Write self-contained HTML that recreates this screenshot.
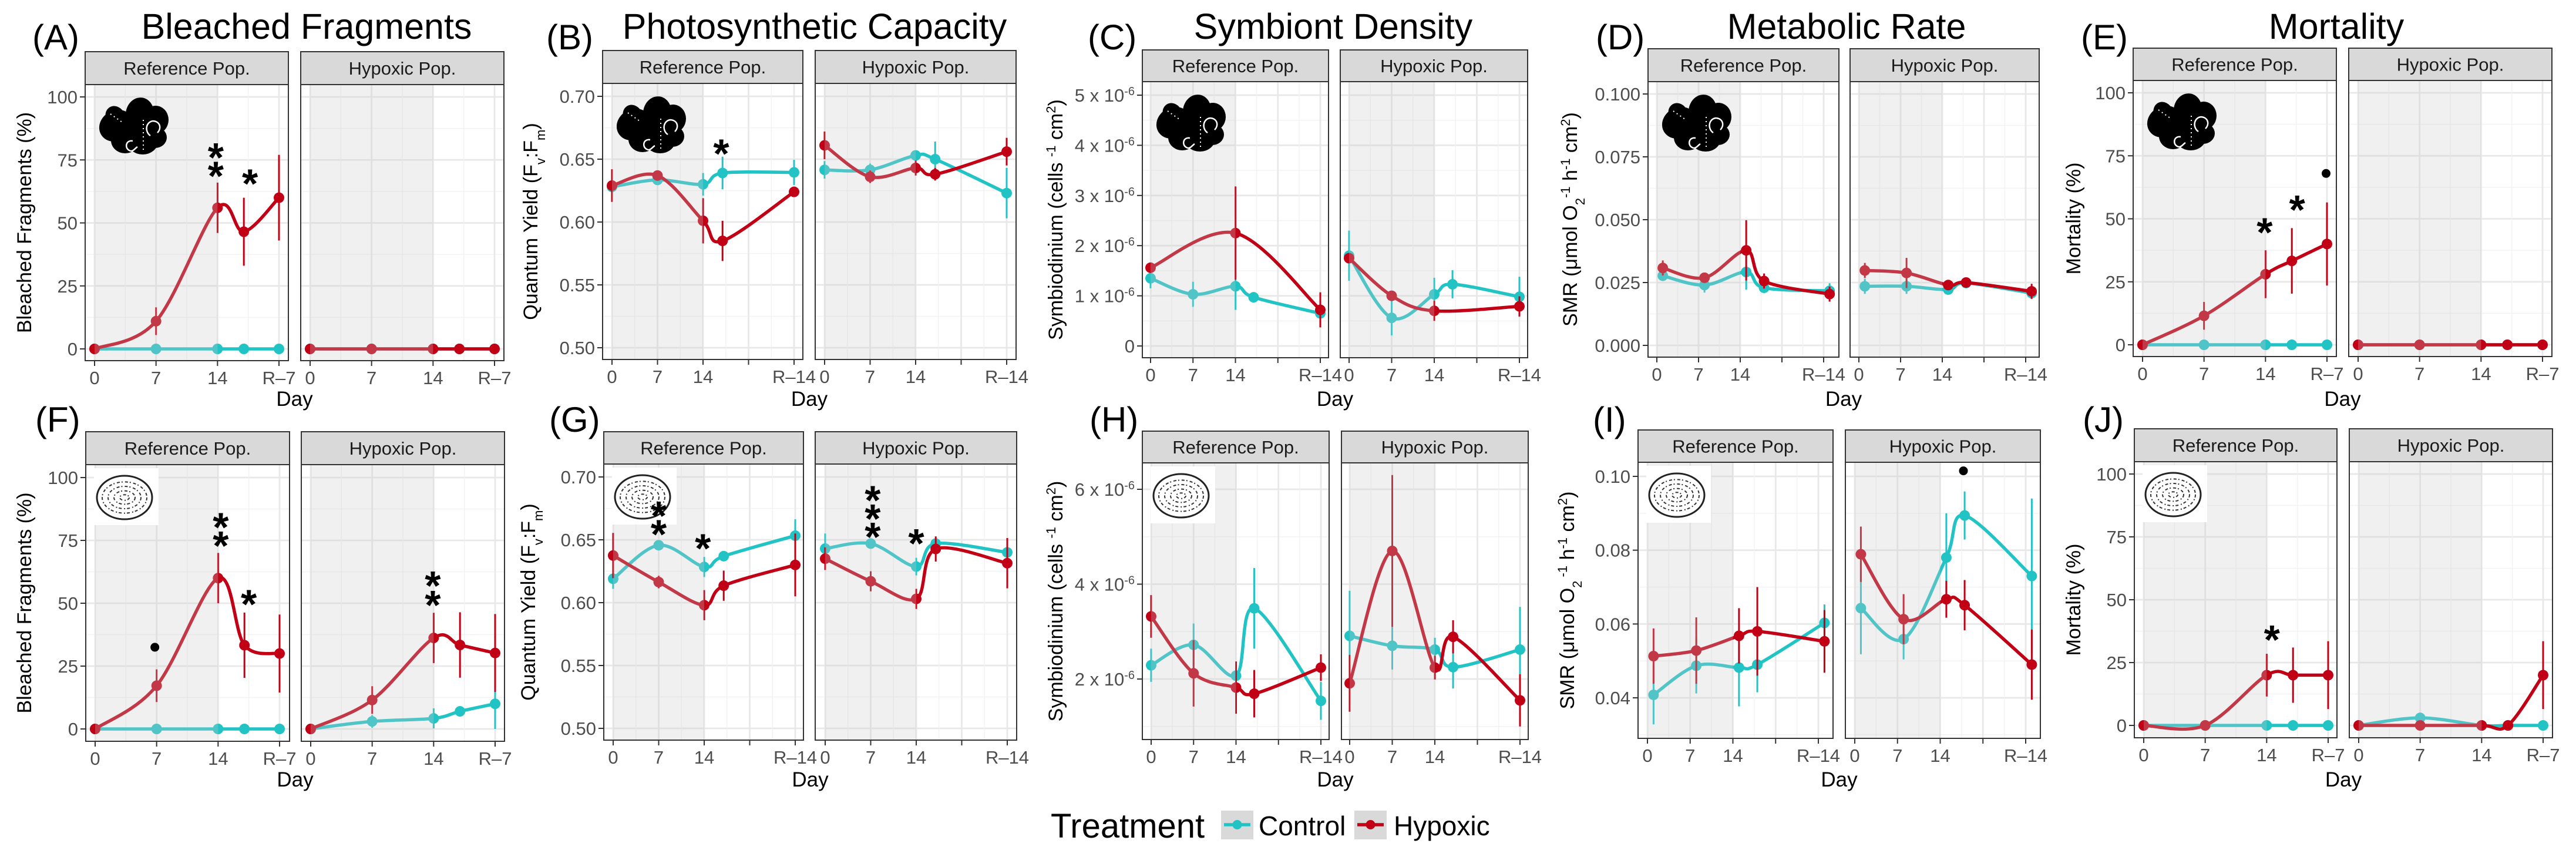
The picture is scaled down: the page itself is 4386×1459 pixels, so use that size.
<!DOCTYPE html>
<html><head><meta charset="utf-8">
<style>
html,body{margin:0;padding:0;background:#fff;}
svg{display:block;font-family:"Liberation Sans",Arial,sans-serif;}
</style></head>
<body>
<svg id="fig" width="4386" height="1459" viewBox="0 0 4386 1459" xmlns="http://www.w3.org/2000/svg"></svg>
<script>
// ---------- DATA ----------
const days21 = [0,7,14,17,21];
const days28 = [0,7,14,17,28];
const daysSMR = [1,8,15,18,29];

// A Bleached fragments, branching coral
const A_ref_ctrl = [0,0,0,0,0];            const A_ref_ctrl_err = [0,0,0,0,0];
const A_ref_hyp  = [0,11,56,46.5,60];      const A_ref_hyp_err  = [0,5.5,10,13.5,17];
const A_hyp_ctrl = [0,0,0,0,0];            const A_hyp_ctrl_err = [0,0,0,0,0];
const A_hyp_hyp  = [0,0,0,0,0];            const A_hyp_hyp_err  = [0,0,0,0,0];
// B Quantum yield, branching
const B_ref_ctrl = [0.628,0.6335,0.630,0.639,0.6395]; const B_ref_ctrl_err = [0.010,0.003,0.009,0.013,0.010];
const B_ref_hyp  = [0.629,0.637,0.601,0.585,0.624];   const B_ref_hyp_err  = [0.013,0.004,0.018,0.016,0.004];
const B_hyp_ctrl = [0.6415,0.6415,0.653,0.650,0.623]; const B_hyp_ctrl_err = [0.007,0.005,0.004,0.014,0.020];
const B_hyp_hyp  = [0.661,0.636,0.643,0.638,0.656];   const B_hyp_hyp_err  = [0.011,0.005,0.006,0.005,0.011];
// C Symbiont density (x1e-6), branching
const C_ref_hyp_days = [0,14,28];
const C_ref_ctrl = [1.35,1.03,1.19,0.97,0.65]; const C_ref_ctrl_err = [0.2,0.25,0.47,0.05,0.1];
const C_ref_hyp  = [1.56,2.25,0.72];           const C_ref_hyp_err  = [0.05,0.93,0.35];
const C_hyp_hyp_days = [0,7,14,28];
const C_hyp_ctrl = [1.80,0.56,1.03,1.23,0.98]; const C_hyp_ctrl_err = [0.5,0.35,0.33,0.28,0.4];
const C_hyp_hyp  = [1.75,1.0,0.70,0.79];       const C_hyp_hyp_err  = [0.05,0.1,0.2,0.2];
// D SMR, branching
const D_ref_ctrl = [0.0277,0.0240,0.0292,0.0229,0.0217]; const D_ref_ctrl_err = [0.002,0.003,0.007,0.002,0.003];
const D_ref_hyp  = [0.0308,0.0269,0.0378,0.0256,0.0204]; const D_ref_hyp_err  = [0.003,0.002,0.012,0.003,0.003];
const D_hyp_ctrl = [0.0235,0.0235,0.0222,0.0248,0.0208]; const D_hyp_ctrl_err = [0.003,0.003,0.002,0.002,0.002];
const D_hyp_hyp  = [0.0298,0.0288,0.0240,0.0250,0.0215]; const D_hyp_hyp_err  = [0.003,0.006,0.002,0.002,0.003];
// E Mortality, branching
const E_ref_ctrl = [0,0,0,0,0];        const E_ref_ctrl_err = [0,0,0,0,0];
const E_ref_hyp  = [0,11.5,28,33.3,40]; const E_ref_hyp_err = [0,5.5,9.5,13,16.5];
const E_hyp_ctrl = [0,0,0,0,0];        const E_hyp_ctrl_err = [0,0,0,0,0];
const E_hyp_hyp  = [0,0,0,0,0];        const E_hyp_hyp_err  = [0,0,0,0,0];
// F Bleached, massive coral
const F_ref_ctrl = [0,0,0,0,0];          const F_ref_ctrl_err = [0,0,0,0,0];
const F_ref_hyp  = [0,17.2,60,33.3,30];  const F_ref_hyp_err  = [0,6.5,10,13,15.5];
const F_hyp_ctrl = [0,3,4.2,7,10];       const F_hyp_ctrl_err = [0,2.5,4,0.5,10];
const F_hyp_hyp  = [0,11.5,36.2,33.4,30.2]; const F_hyp_hyp_err = [0,5.5,10,13,15.5];
// G Quantum yield, massive
const G_ref_ctrl = [0.619,0.6457,0.6284,0.637,0.6533]; const G_ref_ctrl_err = [0.008,0.004,0.008,0.003,0.013];
const G_ref_hyp  = [0.6375,0.6164,0.598,0.6135,0.630]; const G_ref_hyp_err  = [0.018,0.005,0.012,0.012,0.025];
const G_hyp_ctrl = [0.643,0.647,0.6287,0.647,0.640];   const G_hyp_ctrl_err = [0.012,0.004,0.007,0.003,0.003];
const G_hyp_hyp  = [0.635,0.617,0.603,0.6427,0.6314];  const G_hyp_hyp_err  = [0.009,0.008,0.008,0.010,0.020];
// H Symbiont density (x1e-6), massive
const H_ref_ctrl = [2.29,2.72,2.07,3.49,1.54]; const H_ref_ctrl_err = [0.35,0.45,0.1,0.85,0.4];
const H_ref_hyp  = [3.32,2.12,1.82,1.69,2.24]; const H_ref_hyp_err  = [0.45,0.7,0.55,0.5,0.28];
const H_hyp_ctrl = [2.91,2.70,2.62,2.25,2.62]; const H_hyp_ctrl_err = [0.95,0.5,0.25,0.45,0.9];
const H_hyp_hyp  = [1.91,4.70,2.24,2.89,1.55]; const H_hyp_hyp_err  = [0.6,1.6,0.25,0.35,0.55];
// I SMR, massive
const I_ref_ctrl = [0.0408,0.0487,0.0482,0.0490,0.0603]; const I_ref_ctrl_err = [0.008,0.0075,0.0105,0.0075,0.005];
const I_ref_hyp  = [0.0513,0.0528,0.0568,0.0580,0.0553]; const I_ref_hyp_err  = [0.0075,0.009,0.0075,0.012,0.0085];
const I_hyp_ctrl = [0.0643,0.0559,0.0780,0.0894,0.0730]; const I_hyp_ctrl_err = [0.0125,0.0055,0.012,0.0065,0.021];
const I_hyp_hyp  = [0.0789,0.0613,0.0667,0.0651,0.0490]; const I_hyp_hyp_err  = [0.0075,0.0068,0.005,0.0068,0.0095];
// J Mortality, massive
const J_ref_ctrl = [0,0,0,0,0];     const J_ref_ctrl_err = [0,0,0,0,0];
const J_ref_hyp  = [0,0,20,20,20];  const J_ref_hyp_err  = [0,0,8.5,11,13.5];
const J_hyp_ctrl = [0,3,0,0,0];     const J_hyp_ctrl_err = [0,1.5,0,0,0];
const J_hyp_hyp  = [0,0,0,0,20];    const J_hyp_hyp_err  = [0,0,0,0,13.5];

// significance marks [day, value, symbol]
const A_ref_marks = [[13.8,79.7,'*'],[13.8,72.4,'*'],[17.7,69.3,'*']];
const B_ref_marks = [[16.8,0.662,'*']];
const E_ref_marks = [[13.9,48.4,'*'],[17.6,57.3,'*'],[20.9,68,'dot']];
const F_ref_marks = [[6.8,32.5,'dot'],[14.3,84,'*'],[14.3,76.6,'*'],[17.5,53.4,'*']];
const F_hyp_marks = [[13.9,60.7,'*'],[13.9,53,'*']];
const G_ref_marks = [[7.0,0.6767,'*'],[7.0,0.662,'*'],[13.8,0.6506,'*']];
const G_hyp_marks = [[7.3,0.689,'*'],[7.3,0.6744,'*'],[7.3,0.6597,'*'],[14.0,0.6547,'*']];
const I_hyp_marks = [[17.8,0.1015,'dot']];
const J_ref_marks = [[14.6,37.9,'*']];

// tick label arrays
const pctTicks = [0,25,50,75,100];
const qyTicks = [0.50,0.55,0.60,0.65,0.70];
const symTopTicks = [0,1,2,3,4,5];
const symBotTicks = [2,4,6];
const smrTopTicks = [0,0.025,0.05,0.075,0.1];
const smrBotTicks = [0.04,0.06,0.08,0.10];
const xLabels21 = ['0','7','14','R\u20137'];
const xLabels28 = ['0','7','14','','R\u201314'];

// ---------- LAYOUT (positions) ----------
const CTRL = '#22c3c5', HYP = '#c10016';
const panels = [
 {id:'A',title:'Bleached Fragments',tx:522,lx:55,row:0,dmax:21,xr:[145,491,161,475],xh:[512,858,528,842],strip:[88,144],bot:614,y:[0,594,100,165],ticks:pctTicks,fmt:v=>String(v),ylab:'bf',ylx:41,icon:'branch',
  ref:{c:[days21,A_ref_ctrl,A_ref_ctrl_err],h:[days21,A_ref_hyp,A_ref_hyp_err],m:A_ref_marks},hyp:{c:[days21,A_hyp_ctrl,A_hyp_ctrl_err],h:[days21,A_hyp_hyp,A_hyp_hyp_err],m:[]}},
 {id:'B',title:'Photosynthetic Capacity',tx:1387,lx:930,row:0,dmax:28,xr:[1026,1367,1042,1352],xh:[1388,1730,1404,1714],strip:[86,142],bot:612,y:[0.5,592,0.7,164],ticks:qyTicks,fmt:v=>v.toFixed(2),ylab:'qy',ylx:903,icon:'branch',
  ref:{c:[days28,B_ref_ctrl,B_ref_ctrl_err],h:[days28,B_ref_hyp,B_ref_hyp_err],m:B_ref_marks},hyp:{c:[days28,B_hyp_ctrl,B_hyp_ctrl_err],h:[days28,B_hyp_hyp,B_hyp_hyp_err],m:[]}},
 {id:'C',title:'Symbiont Density',tx:2270,lx:1852,row:0,dmax:28,xr:[1945,2262,1959,2248],xh:[2282,2601,2297,2587],strip:[85,139],bot:609,y:[0,589,5,162],ticks:symTopTicks,fmt:'sci',ylab:'sym',ylx:1797,icon:'branch',
  ref:{c:[days28,C_ref_ctrl,C_ref_ctrl_err],h:[C_ref_hyp_days,C_ref_hyp,C_ref_hyp_err],m:[]},hyp:{c:[days28,C_hyp_ctrl,C_hyp_ctrl_err],h:[C_hyp_hyp_days,C_hyp_hyp,C_hyp_hyp_err],m:[]}},
 {id:'D',title:'Metabolic Rate',tx:3144,lx:2717,row:0,dmax:28,xr:[2806,3131,2821,3105],xh:[3150,3472,3165,3449],strip:[83,139],bot:608,y:[0,588,0.1,160],ticks:smrTopTicks,fmt:v=>v.toFixed(3),ylab:'smr',ylx:2673,icon:'branch',
  ref:{c:[daysSMR,D_ref_ctrl,D_ref_ctrl_err],h:[daysSMR,D_ref_hyp,D_ref_hyp_err],m:[]},hyp:{c:[daysSMR,D_hyp_ctrl,D_hyp_ctrl_err],h:[daysSMR,D_hyp_hyp,D_hyp_hyp_err],m:[]}},
 {id:'E',title:'Mortality',tx:3978,lx:3543,row:0,dmax:21,xr:[3632,3978,3648,3962],xh:[3999,4345,4015,4329],strip:[82,137],bot:607,y:[0,587,100,158],ticks:pctTicks,fmt:v=>String(v),ylab:'mort',ylx:3530,icon:'branch',
  ref:{c:[days21,E_ref_ctrl,E_ref_ctrl_err],h:[days21,E_ref_hyp,E_ref_hyp_err],m:E_ref_marks},hyp:{c:[days21,E_hyp_ctrl,E_hyp_ctrl_err],h:[days21,E_hyp_hyp,E_hyp_hyp_err],m:[]}},
 {id:'F',lx:60,row:1,dmax:21,xr:[146,493,162,476],xh:[513,859,529,843],strip:[735,791],bot:1262,y:[0,1241,100,813],ticks:pctTicks,fmt:v=>String(v),ylab:'bf',ylx:41,icon:'brain',
  ref:{c:[days21,F_ref_ctrl,F_ref_ctrl_err],h:[days21,F_ref_hyp,F_ref_hyp_err],m:F_ref_marks},hyp:{c:[days21,F_hyp_ctrl,F_hyp_ctrl_err],h:[days21,F_hyp_hyp,F_hyp_hyp_err],m:F_hyp_marks}},
 {id:'G',lx:935,row:1,dmax:28,xr:[1028,1368,1044,1354],xh:[1388,1731,1405,1715],strip:[735,790],bot:1260,y:[0.5,1240,0.7,812],ticks:qyTicks,fmt:v=>v.toFixed(2),ylab:'qy2',ylx:899,icon:'brain',
  ref:{c:[days28,G_ref_ctrl,G_ref_ctrl_err],h:[days28,G_ref_hyp,G_ref_hyp_err],m:G_ref_marks},hyp:{c:[days28,G_hyp_ctrl,G_hyp_ctrl_err],h:[days28,G_hyp_hyp,G_hyp_hyp_err],m:G_hyp_marks}},
 {id:'H',lx:1855,row:1,dmax:28,xr:[1945,2263,1960,2249],xh:[2284,2602,2298,2588],strip:[734,788],bot:1259,y:[2,1156,6,833],ticks:symBotTicks,fmt:'sci',ylab:'sym',ylx:1797,icon:'brain',
  ref:{c:[days28,H_ref_ctrl,H_ref_ctrl_err],h:[days28,H_ref_hyp,H_ref_hyp_err],m:[]},hyp:{c:[days28,H_hyp_ctrl,H_hyp_ctrl_err],h:[days28,H_hyp_hyp,H_hyp_hyp_err],m:[]}},
 {id:'I',lx:2712,row:1,dmax:28,xr:[2789,3121,2805,3096],xh:[3142,3474,3158,3449],strip:[732,787],bot:1257,y:[0.04,1188,0.10,811],ticks:smrBotTicks,fmt:v=>v.toFixed(2),ylab:'smr2',ylx:2668,icon:'brain',
  ref:{c:[daysSMR,I_ref_ctrl,I_ref_ctrl_err],h:[daysSMR,I_ref_hyp,I_ref_hyp_err],m:[]},hyp:{c:[daysSMR,I_hyp_ctrl,I_hyp_ctrl_err],h:[daysSMR,I_hyp_hyp,I_hyp_hyp_err],m:I_hyp_marks}},
 {id:'J',lx:3546,row:1,dmax:21,xr:[3634,3979,3650,3964],xh:[4000,4346,4016,4330],strip:[730,786],bot:1256,y:[0,1235,100,807],ticks:pctTicks,fmt:v=>String(v),ylab:'mort',ylx:3530,icon:'brain',
  ref:{c:[days21,J_ref_ctrl,J_ref_ctrl_err],h:[days21,J_ref_hyp,J_ref_hyp_err],m:J_ref_marks},hyp:{c:[days21,J_hyp_ctrl,J_hyp_ctrl_err],h:[days21,J_hyp_hyp,J_hyp_hyp_err],m:[]}}
];

// ---------- DRAWING ----------
const NS='http://www.w3.org/2000/svg';
const svg=document.getElementById('fig');
function mk(tag,attrs,parent){const e=document.createElementNS(NS,tag);for(const k in attrs)e.setAttribute(k,attrs[k]);(parent||svg).appendChild(e);return e;}
function txt(s,attrs,parent){const e=mk('text',attrs,parent);e.textContent=s;return e;}
function tsp(parent,s,attrs){const t=document.createElementNS(NS,'tspan');for(const k in attrs)t.setAttribute(k,attrs[k]);t.textContent=s;parent.appendChild(t);return t;}

function spline(pts){
  if(pts.length<2)return '';
  let d='M'+pts[0][0]+','+pts[0][1];
  for(let i=0;i<pts.length-1;i++){
    const p0=pts[Math.max(0,i-1)],p1=pts[i],p2=pts[i+1],p3=pts[Math.min(pts.length-1,i+2)];
    const c1=[p1[0]+(p2[0]-p0[0])/6,p1[1]+(p2[1]-p0[1])/6];
    const c2=[p2[0]-(p3[0]-p1[0])/6,p2[1]-(p3[1]-p1[1])/6];
    d+=' C'+c1[0]+','+c1[1]+' '+c2[0]+','+c2[1]+' '+p2[0]+','+p2[1];
  }
  return d;
}

function branchIcon(g,x,y){
  const ig=mk('g',{transform:'translate('+x+','+y+')'},g);
  
  
  const blobs=[[30,58,30,26,-30],[70,38,24,28,10],[97,48,22,24,0],[96,78,20,18,0],[75,85,26,22,0],[45,83,24,22,0],[58,60,22,22,0],[28,42,16,18,-30]];
  blobs.forEach(b=>mk('ellipse',{cx:b[0],cy:b[1],rx:b[2],ry:b[3],transform:'rotate('+b[4]+' '+b[0]+' '+b[1]+')',fill:'#000'},ig));
  mk('path',{d:'M88,75 C78,68 80,52 92,50 C104,50 108,62 100,70',fill:'none',stroke:'#fff','stroke-width':2.5},ig);
  mk('path',{d:'M58,84 C46,82 44,96 52,100 C58,104 62,96 66,94',fill:'none',stroke:'#fff','stroke-width':2.5},ig);
  mk('path',{d:'M76,48 L76,100',fill:'none',stroke:'#fff','stroke-width':2,'stroke-dasharray':'2 5'},ig);
  mk('path',{d:'M20,38 L40,52',fill:'none',stroke:'#fff','stroke-width':2,'stroke-dasharray':'2 5'},ig);
}
function brainIcon(g,x,y){
  const ig=mk('g',{transform:'translate('+x+','+y+')'},g);
  
  
  mk('rect',{x:0,y:0,width:110,height:97,fill:'#fff'},ig);
  mk('ellipse',{cx:52,cy:50,rx:47,ry:37,fill:'#fff',stroke:'#222','stroke-width':3},ig);
  [[38,28],[28,20],[18,12],[8,5]].forEach(r=>mk('ellipse',{cx:52,cy:50,rx:r[0],ry:r[1]*0.95,fill:'none',stroke:'#333','stroke-width':2,'stroke-dasharray':'5 3 2 4'},ig));
}

function drawFacet(p,xs,facet,label,g){
  const [x0,x1,t0,t1]=xs, top=p.strip[1], bot=p.bot;
  const X=d=>t0+d/p.dmax*(t1-t0);
  const Y=v=>p.y[1]+(v-p.y[0])/(p.y[2]-p.y[0])*(p.y[3]-p.y[1]);
  const fg=mk('g',{},g);
  
  
  mk('rect',{x:x0,y:top,width:x1-x0,height:bot-top,fill:'#fff'},fg);
  const cid='clip-'+p.id+'-'+(facet===p.ref?'ref':'hyp');
  const cp=mk('clipPath',{id:cid},fg);mk('rect',{x:x0,y:top,width:x1-x0,height:bot-top},cp);
  const inner=mk('g',{'clip-path':'url(#'+cid+')'},fg);
  // grid
  const tk=p.ticks, step=tk[1]-tk[0];
  for(let i=-1;i<tk.length;i++){const v=tk[0]+(i+0.5)*step;mk('line',{x1:x0,x2:x1,y1:Y(v),y2:Y(v),stroke:'#f2f2f2','stroke-width':1.4},inner);}
  tk.forEach(v=>mk('line',{x1:x0,x2:x1,y1:Y(v),y2:Y(v),stroke:'#e8e8e8','stroke-width':2.8},inner));
  const xmaj=p.dmax===21?[0,7,14,21]:[0,7,14,21,28];
  for(let i=0;i<xmaj.length-1;i++){const d=(xmaj[i]+xmaj[i+1])/2;mk('line',{x1:X(d),x2:X(d),y1:top,y2:bot,stroke:'#f2f2f2','stroke-width':1.4},inner);}
  xmaj.forEach(d=>mk('line',{x1:X(d),x2:X(d),y1:top,y2:bot,stroke:'#e8e8e8','stroke-width':2.8},inner));
  // series
  [['control',CTRL,facet.c],['hypoxic',HYP,facet.h]].forEach(([nm,col,s])=>{
    const [dd,vv,ee]=s;
    const sg=mk('g',{},inner);
    
    
    const pts=dd.map((d,i)=>[X(d),Y(vv[i])]);
    const path=mk('path',{d:spline(pts),fill:'none',stroke:col,'stroke-width':5.5,'stroke-linecap':'round'},sg);
    
    
    dd.forEach((d,i)=>{
      if(ee[i]>0){const eb=mk('line',{x1:X(d),x2:X(d),y1:Y(vv[i]-ee[i]),y2:Y(vv[i]+ee[i]),stroke:col,'stroke-width':3},sg);
        
        }
      const c=mk('circle',{cx:X(d),cy:Y(vv[i]),r:9,fill:col},sg);
      
      
    });
  });
  // shade 0-14 days
  const sh=mk('rect',{x:X(0),y:top,width:X(14)-X(0),height:bot-top,fill:'#cacaca','fill-opacity':0.28},inner);
  
  
  // icon
  if(facet===p.ref){ if(p.icon==='branch')branchIcon(fg,x0+23,top+12); else brainIcon(fg,x0+14,top+6); }
  // marks
  facet.m.forEach(m=>{
    if(m[2]==='dot'){const c=mk('circle',{cx:X(m[0]),cy:Y(m[1]),r:7.5,fill:'#000'},fg);
      }
    else{const t=txt('*',{x:X(m[0]),y:Y(m[1])+40,'text-anchor':'middle','font-size':70,'font-weight':'bold',fill:'#000'},fg);
      }
  });
  // border
  mk('rect',{x:x0,y:top,width:x1-x0,height:bot-top,fill:'none',stroke:'#333','stroke-width':2},fg);
  // strip
  const st=mk('g',{},fg);
  
  
  mk('rect',{x:x0,y:p.strip[0],width:x1-x0,height:p.strip[1]-p.strip[0],fill:'#d9d9d9',stroke:'#333','stroke-width':2},st);
  txt(label,{x:(x0+x1)/2,y:(p.strip[0]+p.strip[1])/2+11,'text-anchor':'middle','font-size':31,fill:'#1a1a1a'},st);
  // x ticks
  const xl=p.dmax===21?xLabels21:xLabels28;
  const xa=mk('g',{},fg);
  
  
  xmaj.forEach((d,i)=>{
    mk('line',{x1:X(d),x2:X(d),y1:bot,y2:bot+9,stroke:'#333','stroke-width':2},xa);
    if(xl[i])txt(xl[i],{x:X(d),y:bot+40,'text-anchor':'middle','font-size':31,fill:'#4d4d4d'},xa);
  });
  return {Y};
}

function yLabel(p,g){
  const cy=(p.strip[1]+p.bot)/2;
  const t=mk('text',{transform:'translate('+(p.ylx+12)+','+cy+') rotate(-90)','text-anchor':'middle','font-size':34,fill:'#000'},g);
  
  
  const sub={'baseline-shift':'sub','font-size':22}, sup={'baseline-shift':'super','font-size':22};
  if(p.ylab==='bf')tsp(t,'Bleached Fragments (%)',{});
  else if(p.ylab==='mort')tsp(t,'Mortality (%)',{});
  else if(p.ylab==='qy'||p.ylab==='qy2'){tsp(t,p.ylab==='qy'?'Quantum Yield (F':'Quantum Yield  (F',{});tsp(t,'v',sub);tsp(t,':F',{});tsp(t,'m',sub);tsp(t,')',{});}
  else if(p.ylab==='sym'){tsp(t,'Symbiodinium (cells ',{});tsp(t,'-1',sup);tsp(t,' cm',{});tsp(t,'2',sup);tsp(t,')',{});}
  else {tsp(t,'SMR (\u03bcmol O',{});tsp(t,'2',sub);tsp(t,p.ylab==='smr'?'-1':' -1',sup);tsp(t,' h',{});tsp(t,'-1',sup);tsp(t,' cm',{});tsp(t,'2',sup);tsp(t,')',{});}
}

panels.forEach(p=>{
  const g=mk('g',{});
  
  
  const lab=txt('('+p.id+')',{x:p.lx,y:p.row===0?84:735,'font-size':60,fill:'#000'},g);
  
  
  if(p.title){const t=txt(p.title,{x:p.tx,y:66,'text-anchor':'middle','font-size':61,fill:'#000'},g);
    }
  const f=drawFacet(p,p.xr,p.ref,'Reference Pop.',g);
  drawFacet(p,p.xh,p.hyp,'Hypoxic Pop.',g);
  // y axis
  const ya=mk('g',{},g);
  
  
  p.ticks.forEach(v=>{
    const y=f.Y(v);
    mk('line',{x1:p.xr[0]-9,x2:p.xr[0],y1:y,y2:y,stroke:'#333','stroke-width':2},ya);
    const t=mk('text',{x:p.xr[0]-13,y:y+11,'text-anchor':'end','font-size':31,fill:'#4d4d4d'},ya);
    if(p.fmt==='sci'){ if(v===0)tsp(t,'0',{}); else {tsp(t,v+' x 10',{});tsp(t,'-6',{'baseline-shift':'super','font-size':20});} }
    else tsp(t,p.fmt(v),{});
  });
  yLabel(p,g);
  const d=txt('Day',{x:(p.xr[0]+p.xh[1])/2,y:p.row===0?691:1339,'text-anchor':'middle','font-size':35,fill:'#000'},g);
  
  
});

// legend
const lg=mk('g',{});


const lt=txt('Treatment',{x:1789,y:1426,'font-size':58,fill:'#000'},lg);


[['control',CTRL,2079,'Control',2143],['hypoxic',HYP,2306,'Hypoxic',2373]].forEach(([n,c,kx,l,tx])=>{
  const e=mk('g',{},lg);
  
  
  mk('rect',{x:kx,y:1380,width:55,height:49,fill:'#d9d9d9'},e);
  mk('line',{x1:kx+5,x2:kx+50,y1:1404,y2:1404,stroke:c,'stroke-width':5.5},e);
  mk('circle',{cx:kx+27.5,cy:1404,r:8,fill:c},e);
  txt(l,{x:tx,y:1422,'font-size':46,fill:'#000'},e);
});
</script>
</body></html>
